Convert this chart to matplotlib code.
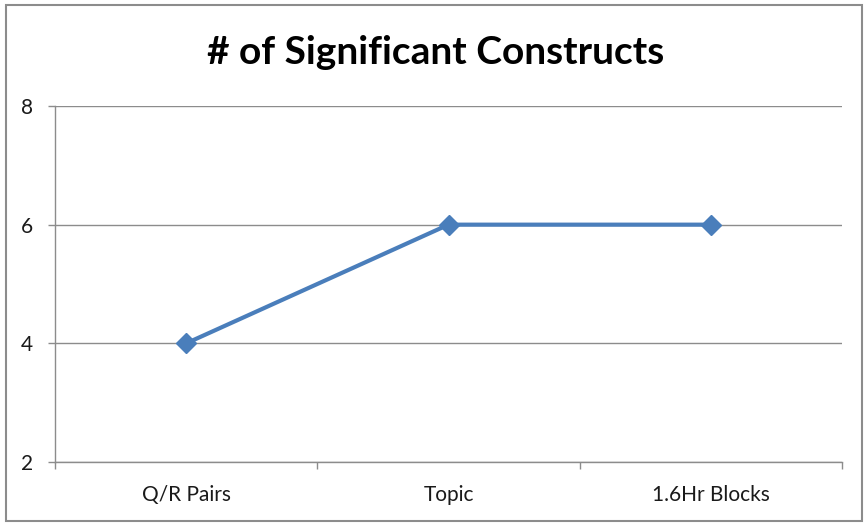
import matplotlib
matplotlib.use("Agg")
import matplotlib.pyplot as plt
from matplotlib.patches import Rectangle

categories = ["Q/R Pairs", "Topic", "1.6Hr Blocks"]
values = [4, 6, 6]
yticks = [2, 4, 6, 8]
title = "# of Significant Constructs"

W, H = 867, 523
fig = plt.figure(figsize=(W / 100, H / 100), dpi=100)
fig.patch.set_facecolor("white")

# outer chart border
fig.patches.append(Rectangle((6 / W, 1 - 521 / H), (862 - 6) / W, (521 - 5) / H,
                             transform=fig.transFigure, fill=False,
                             edgecolor="#8c8c8c", linewidth=1.5))

ax = fig.add_axes([55 / W, 1 - 462 / H, (842 - 55) / W, (462 - 106) / H])
x = list(range(len(categories)))
ax.plot(x, values, color="#4A7EBB", linewidth=3.0, marker="D", markersize=10.5,
        markerfacecolor="#4A7EBB", markeredgecolor="#4A7EBB", zorder=3)

ax.set_xlim(-0.5, len(categories) - 0.5)
ax.set_ylim(min(yticks), max(yticks))
ax.set_yticks(yticks)
ax.set_yticklabels([str(v) for v in yticks])
ax.set_xticks(x)
ax.set_xticklabels(categories)
ax.set_xticks([i - 0.5 for i in range(len(categories) + 1)], minor=True)

ax.tick_params(axis="x", which="major", length=0, pad=16.5, labelsize=15, labelcolor="#1a1a1a")
ax.tick_params(axis="x", which="minor", length=5, width=1, color="#8c8c8c", direction="out")
ax.tick_params(axis="y", which="major", length=5, width=1, color="#8c8c8c", pad=11,
               labelsize=15, labelcolor="#1a1a1a")

ax.grid(axis="y", color="#8c8c8c", linewidth=1)
ax.set_axisbelow(True)
for s in ["top", "right"]:
    ax.spines[s].set_visible(False)
for s in ["left", "bottom"]:
    ax.spines[s].set_color("#8c8c8c")
    ax.spines[s].set_linewidth(1)

for lbl in ax.get_xticklabels() + ax.get_yticklabels():
    lbl.set_fontfamily("Lato")

fig.text(436 / W, 1 - 52 / H, title, ha="center", va="center",
         fontsize=28, fontweight="bold", fontfamily="Lato", color="black")

fig.savefig("out.png", dpi=100)
